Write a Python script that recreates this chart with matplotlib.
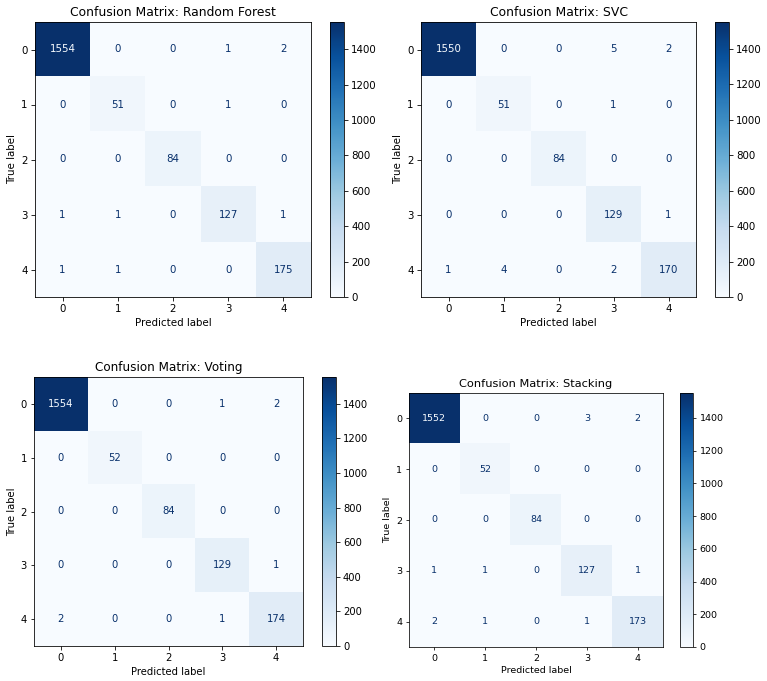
import numpy as np
import matplotlib.pyplot as plt

## Confusion matrices (rows: true label, cols: predicted label)
labels = ['0', '1', '2', '3', '4']

cm_random_forest = np.array([
    [1554, 0, 0, 1, 2],
    [0, 51, 0, 1, 0],
    [0, 0, 84, 0, 0],
    [1, 1, 0, 127, 1],
    [1, 1, 0, 0, 175],
])

cm_svc = np.array([
    [1550, 0, 0, 5, 2],
    [0, 51, 0, 1, 0],
    [0, 0, 84, 0, 0],
    [0, 0, 0, 129, 1],
    [1, 4, 0, 2, 170],
])

cm_voting = np.array([
    [1554, 0, 0, 1, 2],
    [0, 52, 0, 0, 0],
    [0, 0, 84, 0, 0],
    [0, 0, 0, 129, 1],
    [2, 0, 0, 1, 174],
])

cm_stacking = np.array([
    [1552, 0, 0, 3, 2],
    [0, 52, 0, 0, 0],
    [0, 0, 84, 0, 0],
    [1, 1, 0, 127, 1],
    [2, 1, 0, 1, 173],
])

titles = ['Random Forest', 'SVC', 'Voting', 'Stacking']
matrices = [cm_random_forest, cm_svc, cm_voting, cm_stacking]

W, H = 767, 681
# pixel boxes (left, top, right, bottom) of each matrix and its colorbar
ax_boxes = [(35, 22, 311, 297), (421, 22, 696, 297), (34, 377, 303, 646), (409, 393, 663, 647)]
cb_boxes = [(330, 22, 344, 297), (715, 22, 729, 297), (322, 377, 336, 646), (680, 393, 693, 647)]
scales = [0.74, 0.74, 0.72, 0.68]  # each panel was pasted in at its own size


def to_rect(box):
    l, t, r, b = box
    return [l / W, 1 - b / H, (r - l) / W, (b - t) / H]


fig = plt.figure(figsize=(W / 100, H / 100), dpi=100)
cmap = plt.get_cmap('Blues')

for cm, title, axb, cbb, s in zip(matrices, titles, ax_boxes, cb_boxes, scales):
    ax = fig.add_axes(to_rect(axb))
    cax = fig.add_axes(to_rect(cbb))
    im = ax.imshow(cm, interpolation='nearest', cmap=cmap, aspect='auto')

    # sklearn-style text colors
    thresh = (cm.max() + cm.min()) / 2.0
    for i in range(cm.shape[0]):
        for j in range(cm.shape[1]):
            color = cmap(0.0) if cm[i, j] >= thresh else cmap(1.0)
            ax.text(j, i, str(cm[i, j]), ha='center', va='center', color=color, fontsize=10 * s)

    ax.set_xticks(range(len(labels)))
    ax.set_yticks(range(len(labels)))
    ax.set_xticklabels(labels)
    ax.set_yticklabels(labels)
    ax.set_xlabel('Predicted label', fontsize=10 * s, labelpad=4 * s)
    ax.set_ylabel('True label', fontsize=10 * s, labelpad=4 * s)
    ax.set_title('Confusion Matrix: ' + title, fontsize=12 * s, pad=6 * s)
    ax.tick_params(labelsize=10 * s, length=3.5 * s, width=0.8 * s, pad=3.5 * s)
    for sp in ax.spines.values():
        sp.set_linewidth(0.8 * s)

    cb = fig.colorbar(im, cax=cax)
    cb.ax.tick_params(labelsize=10 * s, length=3.5 * s, width=0.8 * s, pad=3.5 * s)
    cb.outline.set_linewidth(0.8 * s)

plt.savefig('out.png', dpi=100)
